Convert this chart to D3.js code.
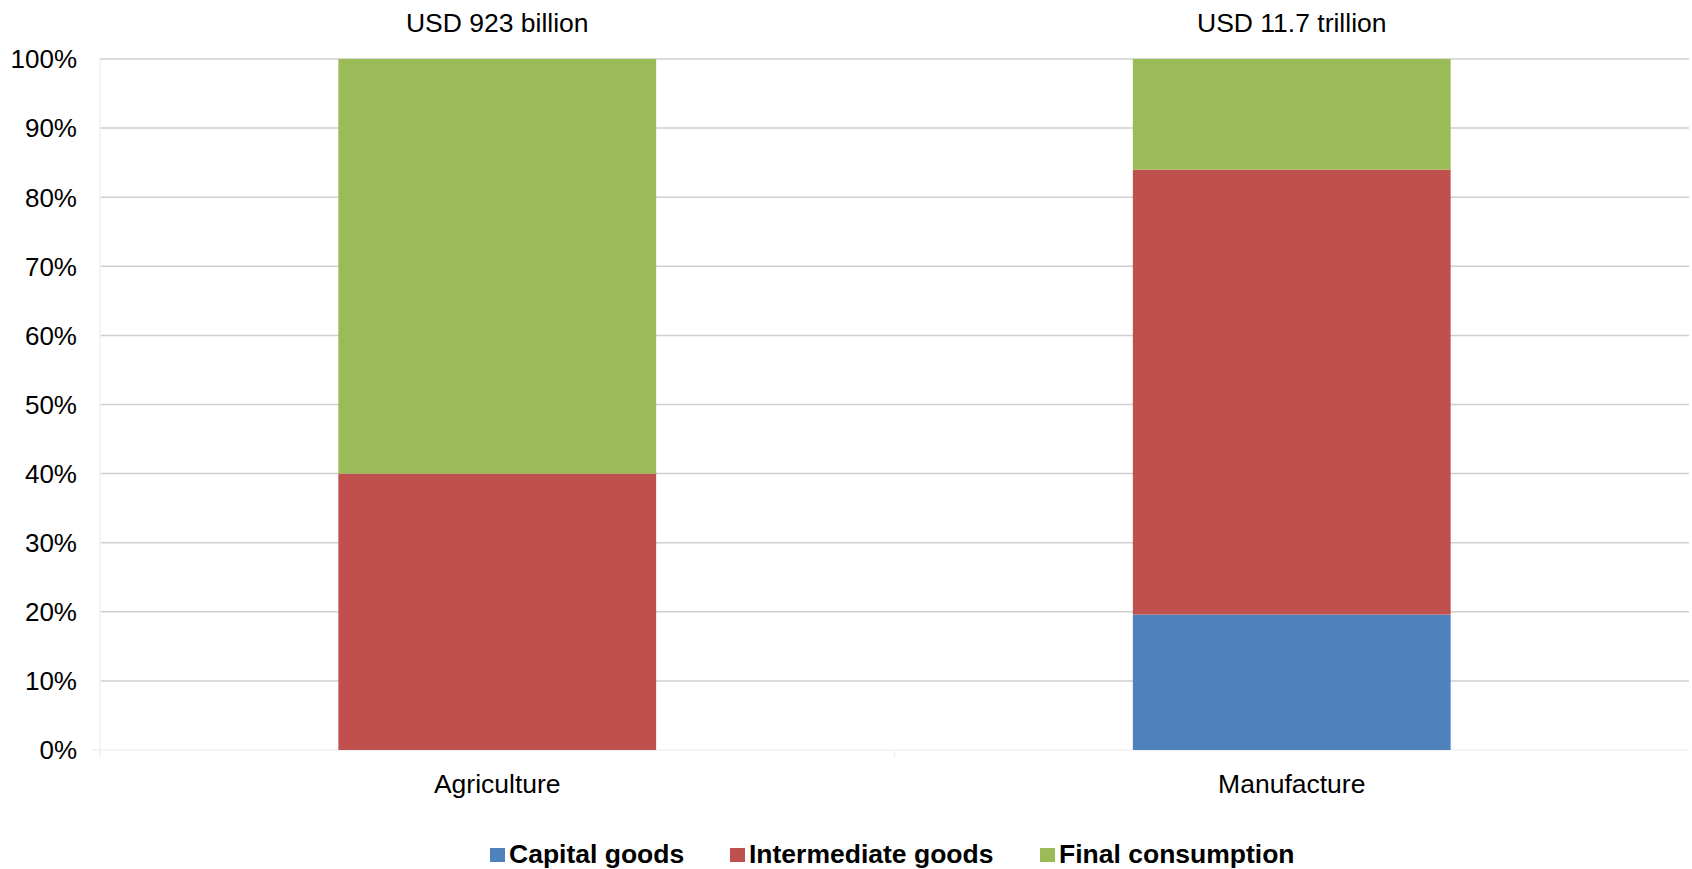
<!DOCTYPE html>
<html>
<head>
<meta charset="utf-8">
<script src="https://cdn.jsdelivr.net/npm/d3@7"></script>
<style>
  html, body { margin: 0; padding: 0; background: #fff; }
  svg { display: block; font-family: "Liberation Sans", Arial, sans-serif; }
</style>
</head>
<body>
<svg id="chart" width="1692" height="869"></svg>
<script>
// Sectors and their total value
const categories = ["Agriculture", "Manufacture"];
const totals = ["USD 923 billion", "USD 11.7 trillion"];

// Share of each end use (%)
const seriesNames = ["Capital goods", "Intermediate goods", "Final consumption"];
const capitalGoods = [0, 19.6];
const intermediateGoods = [40, 64.4];
const finalConsumption = [60, 16.0];

const yTicks = [0, 10, 20, 30, 40, 50, 60, 70, 80, 90, 100];
const colors = ["#4F81BD", "#C0504D", "#9BBB59"];

const svg = d3.select("#chart");
const margin = { left: 100, right: 3, top: 59, bottom: 119 };
const W = 1692, H = 869;

const x = d3.scaleBand()
  .domain(categories)
  .range([margin.left, W - margin.right])
  .paddingInner(0.6)
  .paddingOuter(0.3);

const y = d3.scaleLinear()
  .domain([0, 100])
  .range([H - margin.bottom, margin.top]);

// Gridlines
svg.append("g")
  .selectAll("line")
  .data(yTicks.filter(d => d > 0))
  .join("line")
  .attr("x1", margin.left)
  .attr("x2", W - margin.right)
  .attr("y1", d => y(d))
  .attr("y2", d => y(d))
  .attr("stroke", "#cfcfcf")
  .attr("stroke-width", 1.5);

// Faint baseline and left axis
svg.append("line")
  .attr("x1", margin.left - 8).attr("x2", W - margin.right)
  .attr("y1", y(0)).attr("y2", y(0))
  .attr("stroke", "#f0f0f0").attr("stroke-width", 1.5);
svg.append("line")
  .attr("x1", margin.left).attr("x2", margin.left)
  .attr("y1", y(100)).attr("y2", y(0) + 8)
  .attr("stroke", "#f0f0f0").attr("stroke-width", 1.5);
svg.append("line")
  .attr("x1", (x(categories[0]) + x.bandwidth() + x(categories[1])) / 2)
  .attr("x2", (x(categories[0]) + x.bandwidth() + x(categories[1])) / 2)
  .attr("y1", y(0)).attr("y2", y(0) + 8)
  .attr("stroke", "#f0f0f0").attr("stroke-width", 1.5);

// Y axis labels
svg.append("g")
  .selectAll("text")
  .data(yTicks)
  .join("text")
  .attr("x", 77)
  .attr("y", d => y(d))
  .attr("dy", "0.36em")
  .attr("text-anchor", "end")
  .attr("font-size", 26)
  .attr("fill", "#000")
  .text(d => d + "%");

// Stacked bars
const rows = categories.map((c, i) => ({
  category: c,
  "Capital goods": capitalGoods[i],
  "Intermediate goods": intermediateGoods[i],
  "Final consumption": finalConsumption[i]
}));
const stacked = d3.stack().keys(seriesNames)(rows);

svg.append("g")
  .selectAll("g")
  .data(stacked)
  .join("g")
  .attr("fill", (d, i) => colors[i])
  .selectAll("rect")
  .data(d => d.filter(s => s[1] - s[0] > 0))
  .join("rect")
  .attr("x", d => x(d.data.category))
  .attr("width", x.bandwidth())
  .attr("y", d => y(d[1]))
  .attr("height", d => y(d[0]) - y(d[1]));

// Category labels
svg.append("g")
  .selectAll("text")
  .data(categories)
  .join("text")
  .attr("x", d => x(d) + x.bandwidth() / 2)
  .attr("y", 793)
  .attr("text-anchor", "middle")
  .attr("font-size", 26.5)
  .text(d => d);

// Totals above bars
svg.append("g")
  .selectAll("text")
  .data(categories)
  .join("text")
  .attr("x", d => x(d) + x.bandwidth() / 2)
  .attr("y", 32)
  .attr("text-anchor", "middle")
  .attr("font-size", 26.5)
  .text((d, i) => totals[i]);

// Legend
const legendX = [490, 730, 1040];
const legend = svg.append("g")
  .selectAll("g")
  .data(seriesNames)
  .join("g")
  .attr("transform", (d, i) => `translate(${legendX[i]},0)`);
legend.append("rect")
  .attr("x", 0).attr("y", 848)
  .attr("width", 15).attr("height", 14)
  .attr("fill", (d, i) => colors[i]);
legend.append("text")
  .attr("x", 19).attr("y", 863)
  .attr("font-size", 26.5)
  .attr("font-weight", "bold")
  .text(d => d);
</script>
</body>
</html>
